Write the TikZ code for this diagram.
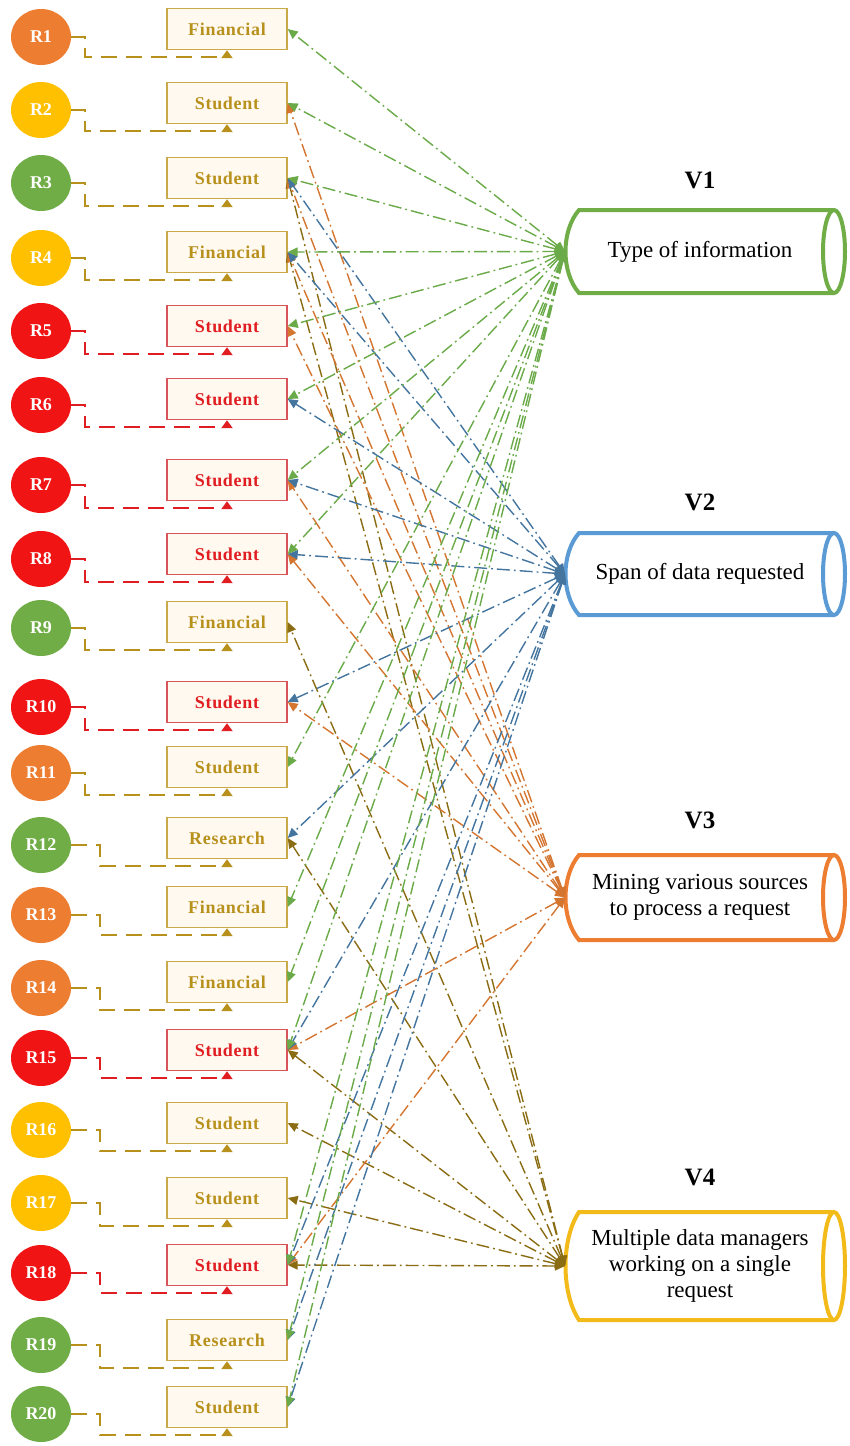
\documentclass[tikz,border=0pt]{standalone}
\usepackage{fontspec}
\setmainfont{Liberation Serif}
\newfontfamily\catfont[LetterSpace=4]{Liberation Serif}
\usetikzlibrary{arrows.meta,shapes.geometric}

% fills of the request circles
\definecolor{cOrange}{HTML}{ED7D31}
\definecolor{cYellow}{HTML}{FFC000}
\definecolor{cGreen}{HTML}{70AD47}
\definecolor{cRed}{HTML}{F01414}
% category boxes
\definecolor{goldLine}{HTML}{C9A94A}
\definecolor{goldText}{HTML}{B8901C}
\definecolor{boxRed}{HTML}{D9545A}
\definecolor{redText}{HTML}{E01E22}
\definecolor{boxFill}{HTML}{FFF9F0}
% cylinders and their links
\definecolor{vGreen}{HTML}{70AD47}
\definecolor{vBlue}{HTML}{5B9BD5}
\definecolor{vOrange}{HTML}{ED7D31}
\definecolor{vYellow}{HTML}{F2BB1A}
\definecolor{lnGreen}{HTML}{6AAA48}
\definecolor{lnBlue}{HTML}{44759F}
\definecolor{lnOrange}{HTML}{D47530}
\definecolor{lnOlive}{HTML}{8A6C12}

\begin{document}
\begin{tikzpicture}[x=0.5pt,y=-0.5pt,
  req/.style={ellipse, minimum width=30pt, minimum height=28pt, inner sep=0pt,
    text=white, font=\bfseries\fontsize{9}{9}\selectfont},
  cat/.style={rectangle, minimum width=60pt, minimum height=20.5pt, inner sep=0pt,
    line width=0.7pt, fill=boxFill, font=\catfont\bfseries\fontsize{9}{9}\selectfont},
  elbow/.style={line width=1pt, dash pattern=on 8pt off 4.5pt,
    -{Triangle[length=4pt,width=5.5pt]}},
  link/.style={line width=0.7pt, dash pattern=on 6.5pt off 2pt on 0.9pt off 2pt,
    {Triangle[length=5pt,width=4.5pt]}-{Triangle[length=5pt,width=4.5pt]}},
  cyl/.style={line width=2pt},
  vtext/.style={align=center, font=\fontsize{11.5}{13}\selectfont},
  vtitle/.style={font=\bfseries\fontsize{12.5}{13}\selectfont}]

\fill[white] (0,0) rectangle (850,1446);
\useasboundingbox (0,0) rectangle (850,1446);

% requests, their categories and the elbow links between them
\foreach \i/\cy/\by/\fc/\lab/\bc/\tc/\ex in {
 1/37/29/cOrange/Financial/goldLine/goldText/14,
 2/110/103/cYellow/Student/goldLine/goldText/14,
 3/183/178/cGreen/Student/goldLine/goldText/14,
 4/258/252/cYellow/Financial/goldLine/goldText/14,
 5/331/326/cRed/Student/boxRed/redText/14,
 6/405/399/cRed/Student/boxRed/redText/14,
 7/485/480/cRed/Student/boxRed/redText/14,
 8/559/554/cRed/Student/boxRed/redText/14,
 9/628/622/cGreen/Financial/goldLine/goldText/14,
 10/707/702/cRed/Student/boxRed/redText/14,
 11/773/767/cOrange/Student/goldLine/goldText/14,
 12/845/838/cGreen/Research/goldLine/goldText/29,
 13/915/907/cOrange/Financial/goldLine/goldText/29,
 14/988/982/cOrange/Financial/goldLine/goldText/29,
 15/1058/1050/cRed/Student/boxRed/redText/29,
 16/1130/1123/cYellow/Student/goldLine/goldText/29,
 17/1203/1198/cYellow/Student/goldLine/goldText/29,
 18/1273/1265/cRed/Student/boxRed/redText/29,
 19/1345/1340/cGreen/Research/goldLine/goldText/29,
 20/1414/1407/cGreen/Student/goldLine/goldText/29}
{
  \node[req, fill=\fc] (r\i) at (41,\cy) {R\i};
  \node[cat, draw=\bc, text=\tc] (b\i) at (227,\by) {\lab};
  \draw[elbow, draw=\tc] (r\i.east) -- ++(\ex,0)
     |- ([yshift=-3.5pt]b\i.south) -- (b\i.south);
}

% cylinders V1..V4
\foreach \n/\t/\b/\c/\ry in {1/210/293/vGreen/20.75pt, 2/533/615/vBlue/20.5pt,
                             3/855/940/vOrange/21.25pt, 4/1212/1320/vYellow/27pt}
{
  \pgfmathsetmacro{\mid}{(\t+\b)/2}
  \pgfmathsetmacro{\ca}{\t+(\b-\t)/4}
  \pgfmathsetmacro{\cb}{\b-(\b-\t)/4}
  \fill[white] (579,\t) -- (834,\t) -- (834,\b) -- (579,\b)
     .. controls (561,\cb) and (561,\ca) .. cycle;
  \draw[cyl, draw=\c] (834,\t) -- (579,\t)
     .. controls (561,\ca) and (561,\cb) .. (579,\b) -- (834,\b);
  \draw[cyl, draw=\c] (834,\mid) ellipse [x radius=5.5pt, y radius=\ry];
  \coordinate (vin\n) at (565,\mid);
}

\node[vtitle] (t1) at (700,180) {V1};
\node[vtitle] (t2) at (700,502) {V2};
\node[vtitle] (t3) at (700,820) {V3};
\node[vtitle] (t4) at (700,1177) {V4};

\node[vtext] (v1) at (700,251.5) {Type of information};
\node[vtext] (v2) at (700,574) {Span of data requested};
\node[vtext] (v3) at (700,897) {Mining various sources\\to process a request};
\node[vtext] (v4) at (700,1266) {Multiple data managers\\working on a single\\request};

% links from the cylinders to the categories
\foreach \k in {3,4,9,12,15,16,17,18}
  \draw[link, draw=lnOlive] (vin4) -- (b\k.east);
\foreach \k in {2,3,4,5,7,8,10,15,18}
  \draw[link, draw=lnOrange] (vin3) -- (b\k.east);
\foreach \k in {3,4,6,7,8,10,12,15,18,19,20}
  \draw[link, draw=lnBlue] (vin2) -- (b\k.east);
\foreach \k in {1,2,3,4,5,6,7,8,11,13,14,15,18,19,20}
  \draw[link, draw=lnGreen] (vin1) -- (b\k.east);

\end{tikzpicture}
\end{document}
